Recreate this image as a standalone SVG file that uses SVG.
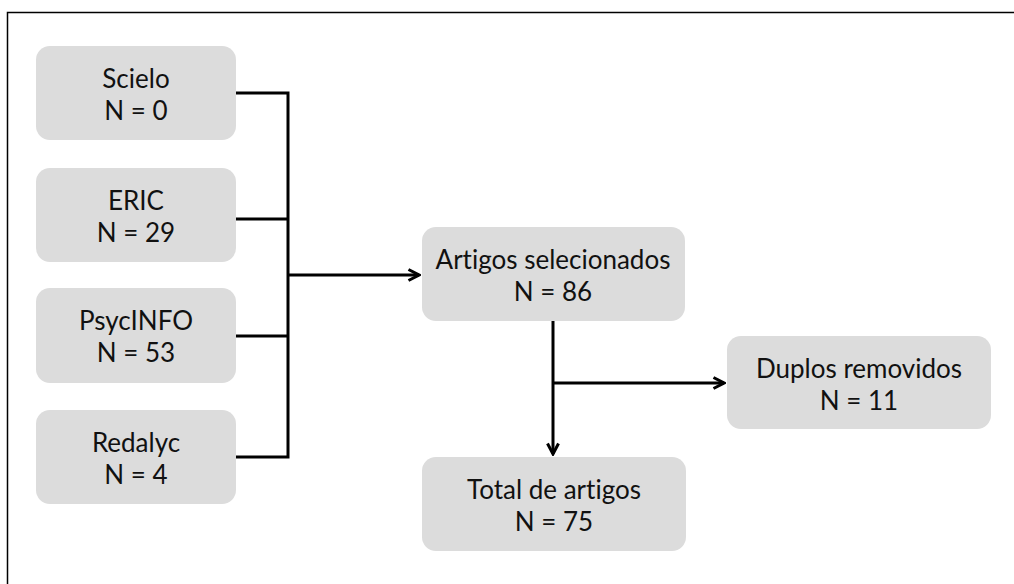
<svg xmlns="http://www.w3.org/2000/svg" width="1014" height="584" viewBox="0 0 1014 584">
<style>
.box{fill:#dcdcdc;}
.t{font-family:Lato,"Open Sans",sans-serif;font-size:26px;fill:#111;text-anchor:middle;font-variant-ligatures:none;}
.c{fill:none;stroke:#000;stroke-width:3;}
</style>
<defs>
<marker id="arr" viewBox="0 0 14 14" refX="12" refY="7" markerWidth="14" markerHeight="14" markerUnits="userSpaceOnUse" orient="auto">
<path d="M1.5,1.5 L12,7 L1.5,12.5" fill="none" stroke="#000" stroke-width="3"/>
</marker>
</defs>
<rect width="1014" height="584" fill="#fff"/>
<path d="M7.5,584 V12.5 H1014" fill="none" stroke="#000" stroke-width="1.5"/>
<g id="connectors">
<path class="c" d="M236,93 H288 V457 H236"/>
<path class="c" d="M236,219 H288"/>
<path class="c" d="M236,336 H288"/>
<path class="c" d="M288,275 H419" marker-end="url(#arr)"/>
<path class="c" d="M553,321 V454" marker-end="url(#arr)"/>
<path class="c" d="M553,383 H724" marker-end="url(#arr)"/>
</g>
<g id="scielo"><rect class="box" x="36" y="46" width="200" height="94" rx="14"/><text class="t" x="136" y="88">Scielo</text><text class="t" x="136" y="120">N = 0</text></g>
<g id="eric"><rect class="box" x="36" y="168" width="200" height="94" rx="14"/><text class="t" x="136" y="210">ERIC</text><text class="t" x="136" y="242">N = 29</text></g>
<g id="psycinfo"><rect class="box" x="36" y="288" width="200" height="95" rx="14"/><text class="t" x="136" y="330">PsycINFO</text><text class="t" x="136" y="362">N = 53</text></g>
<g id="redalyc"><rect class="box" x="36" y="410" width="200" height="94" rx="14"/><text class="t" x="136" y="452">Redalyc</text><text class="t" x="136" y="484">N = 4</text></g>
<g id="artigos"><rect class="box" x="422" y="227" width="263" height="94" rx="14"/><text class="t" x="553" y="269">Artigos selecionados</text><text class="t" x="553" y="301">N = 86</text></g>
<g id="duplos"><rect class="box" x="727" y="336" width="264" height="93" rx="14"/><text class="t" x="859" y="378">Duplos removidos</text><text class="t" x="859" y="410">N = 11</text></g>
<g id="total"><rect class="box" x="422" y="457" width="264" height="94" rx="14"/><text class="t" x="554" y="499">Total de artigos</text><text class="t" x="554" y="531">N = 75</text></g>
</svg>
